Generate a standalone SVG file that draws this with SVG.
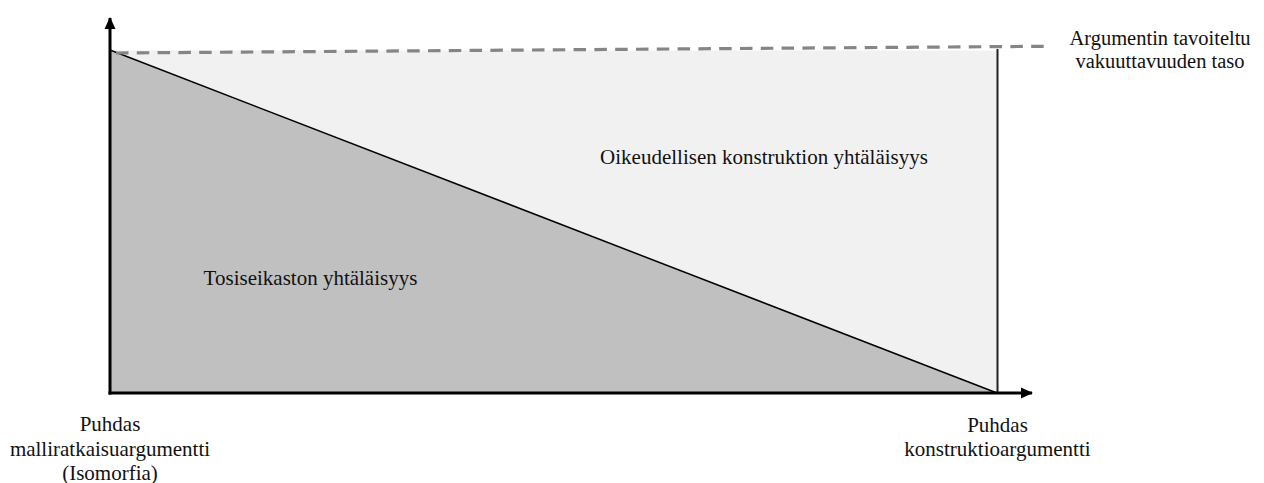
<svg xmlns="http://www.w3.org/2000/svg" width="1264" height="483" viewBox="0 0 1264 483">
  <style>
    .t { font-family: "Liberation Serif", "Times New Roman", serif; font-size: 21px; fill: #111; }
    .tr { font-family: "Liberation Serif", "Times New Roman", serif; font-size: 20.5px; fill: #111; }
    .axis { stroke: #000; stroke-width: 3; fill: none; }
  </style>
  <defs>
    <marker id="arrow" viewBox="0 0 12 12" refX="11" refY="6" markerWidth="12" markerHeight="12" markerUnits="userSpaceOnUse" orient="auto">
      <path d="M0,0.5 L12,6 L0,11.5 Z" fill="#000"/>
    </marker>
  </defs>
  <rect width="1264" height="483" fill="#fff"/>

  <g id="region-construction">
    <rect x="110" y="50.5" width="887" height="342.5" fill="#f1f1f1"/>
  </g>
  <g id="region-facts">
    <polygon points="110,50 997,393 110,393" fill="#c0c0c0"/>
  </g>

  <g id="connectors">
    <line x1="110" y1="50" x2="997" y2="393" stroke="#000" stroke-width="1.5"/>
    <line x1="997.5" y1="49" x2="997.5" y2="393" stroke="#222" stroke-width="2"/>
    <line x1="116" y1="53" x2="1045" y2="46.3" stroke="#858585" stroke-width="3.2" stroke-dasharray="12.5 8.3"/>
    <line class="axis" x1="110" y1="394.5" x2="110" y2="18" marker-end="url(#arrow)"/>
    <line class="axis" x1="108.5" y1="393" x2="1032" y2="393" marker-end="url(#arrow)"/>
  </g>

  <g id="label-construction">
    <text class="t" x="764" y="163.5" text-anchor="middle">Oikeudellisen konstruktion yhtäläisyys</text>
  </g>
  <g id="label-facts">
    <text class="t" x="310.5" y="285" text-anchor="middle">Tosiseikaston yhtäläisyys</text>
  </g>
  <g id="label-target">
    <text class="tr" x="1160" y="44.5" text-anchor="middle">Argumentin tavoiteltu</text>
    <text class="tr" x="1160" y="68" text-anchor="middle">vakuuttavuuden taso</text>
  </g>
  <g id="label-left">
    <text class="t" x="110" y="431" text-anchor="middle">Puhdas</text>
    <text class="t" x="110" y="455.5" text-anchor="middle">malliratkaisuargumentti</text>
    <text class="t" x="110" y="479.5" text-anchor="middle">(Isomorfia)</text>
  </g>
  <g id="label-right">
    <text class="t" x="997.5" y="431.5" text-anchor="middle">Puhdas</text>
    <text class="t" x="997.5" y="455.5" text-anchor="middle">konstruktioargumentti</text>
  </g>
</svg>
